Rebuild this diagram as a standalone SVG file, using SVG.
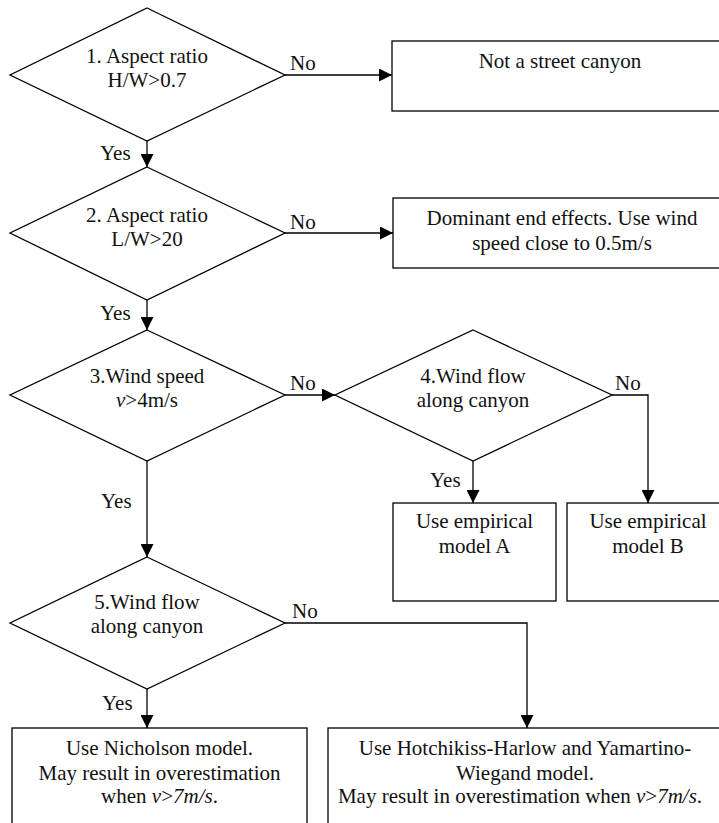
<svg xmlns="http://www.w3.org/2000/svg" width="719" height="823" viewBox="0 0 719 823">
<defs>
<style>
.shape{fill:#fff;stroke:#000;stroke-width:1.3}
.conn{fill:none;stroke:#000;stroke-width:1.3}
</style>
<marker id="arr" markerUnits="userSpaceOnUse" markerWidth="13" markerHeight="13" viewBox="0 0 13 13" refX="13" refY="6.5" orient="auto">
<path d="M0,0 L13,6.5 L0,13 z" fill="#000"/>
</marker>
</defs>
<rect width="719" height="823" fill="#fff"/>
<g id="connectors">
<path class="conn" d="M285,75 H392" marker-end="url(#arr)"/>
<path class="conn" d="M147,141 V167" marker-end="url(#arr)"/>
<path class="conn" d="M285,233 H393" marker-end="url(#arr)"/>
<path class="conn" d="M147,300 V330" marker-end="url(#arr)"/>
<path class="conn" d="M285,395 H335" marker-end="url(#arr)"/>
<path class="conn" d="M473,461 V503" marker-end="url(#arr)"/>
<path class="conn" d="M612,395 H648 V503" marker-end="url(#arr)"/>
<path class="conn" d="M147,461 V557" marker-end="url(#arr)"/>
<path class="conn" d="M147,689 V728" marker-end="url(#arr)"/>
<path class="conn" d="M285,623 H527 V728" marker-end="url(#arr)"/>
<text x="290" y="70" font-family="Liberation Serif" font-size="21" fill="#111">No</text>
<text x="100" y="160" font-family="Liberation Serif" font-size="21" fill="#111">Yes</text>
<text x="290" y="229" font-family="Liberation Serif" font-size="21" fill="#111">No</text>
<text x="100" y="320" font-family="Liberation Serif" font-size="21" fill="#111">Yes</text>
<text x="290" y="390" font-family="Liberation Serif" font-size="21" fill="#111">No</text>
<text x="615" y="390" font-family="Liberation Serif" font-size="21" fill="#111">No</text>
<text x="430" y="487" font-family="Liberation Serif" font-size="21" fill="#111">Yes</text>
<text x="101" y="508" font-family="Liberation Serif" font-size="21" fill="#111">Yes</text>
<text x="292" y="618" font-family="Liberation Serif" font-size="21" fill="#111">No</text>
<text x="102" y="710" font-family="Liberation Serif" font-size="21" fill="#111">Yes</text>
</g>
<g id="d1">
<polygon class="shape" points="147,8 285,75 147,141 10,75"/>
<text x="147" y="63" text-anchor="middle" font-family="Liberation Serif" font-size="21" fill="#111">1. Aspect ratio</text>
<text x="147" y="87" text-anchor="middle" font-family="Liberation Serif" font-size="21" fill="#111">H/W&gt;0.7</text>
</g>
<g id="box1">
<rect class="shape" x="392" y="41" width="340" height="70"/>
<text x="560" y="68" text-anchor="middle" font-family="Liberation Serif" font-size="21" fill="#111">Not a street canyon</text>
</g>
<g id="d2">
<polygon class="shape" points="147,167 285,233 147,300 10,233"/>
<text x="147" y="222" text-anchor="middle" font-family="Liberation Serif" font-size="21" fill="#111">2. Aspect ratio</text>
<text x="147" y="246" text-anchor="middle" font-family="Liberation Serif" font-size="21" fill="#111">L/W&gt;20</text>
</g>
<g id="box2">
<rect class="shape" x="393" y="198" width="340" height="70"/>
<text x="562" y="225" text-anchor="middle" font-family="Liberation Serif" font-size="21" fill="#111">Dominant end effects. Use wind</text>
<text x="562" y="250" text-anchor="middle" font-family="Liberation Serif" font-size="21" fill="#111">speed close to 0.5m/s</text>
</g>
<g id="d3">
<polygon class="shape" points="147,330 285,395 147,461 10,395"/>
<text x="147" y="383" text-anchor="middle" font-family="Liberation Serif" font-size="21" fill="#111">3.Wind speed</text>
<text x="147" y="407" text-anchor="middle" font-family="Liberation Serif" font-size="21" fill="#111"><tspan font-style="italic">v</tspan>&gt;4m/s</text>
</g>
<g id="d4">
<polygon class="shape" points="473,330 612,395 473,461 335,395"/>
<text x="473" y="383" text-anchor="middle" font-family="Liberation Serif" font-size="21" fill="#111">4.Wind flow</text>
<text x="473" y="407" text-anchor="middle" font-family="Liberation Serif" font-size="21" fill="#111">along canyon</text>
</g>
<g id="boxA">
<rect class="shape" x="393" y="503" width="163" height="98"/>
<text x="474.5" y="528" text-anchor="middle" font-family="Liberation Serif" font-size="21" fill="#111">Use empirical</text>
<text x="474.5" y="553" text-anchor="middle" font-family="Liberation Serif" font-size="21" fill="#111">model A</text>
</g>
<g id="boxB">
<rect class="shape" x="567" y="503" width="162" height="98"/>
<text x="648" y="528" text-anchor="middle" font-family="Liberation Serif" font-size="21" fill="#111">Use empirical</text>
<text x="648" y="553" text-anchor="middle" font-family="Liberation Serif" font-size="21" fill="#111">model B</text>
</g>
<g id="d5">
<polygon class="shape" points="147,557 285,623 147,689 10,623"/>
<text x="147" y="609" text-anchor="middle" font-family="Liberation Serif" font-size="21" fill="#111">5.Wind flow</text>
<text x="147" y="633" text-anchor="middle" font-family="Liberation Serif" font-size="21" fill="#111">along canyon</text>
</g>
<g id="boxN">
<rect class="shape" x="12" y="728" width="295" height="110"/>
<text x="159.5" y="755" text-anchor="middle" font-family="Liberation Serif" font-size="21" fill="#111">Use Nicholson model.</text>
<text x="159.5" y="780" text-anchor="middle" font-family="Liberation Serif" font-size="21" fill="#111">May result in overestimation</text>
<text x="159.5" y="803" text-anchor="middle" font-family="Liberation Serif" font-size="21" fill="#111">when <tspan font-style="italic">v</tspan>&gt;<tspan font-style="italic">7m/s</tspan>.</text>
</g>
<g id="boxH">
<rect class="shape" x="328" y="728" width="400" height="110"/>
<text x="525" y="755" text-anchor="middle" font-family="Liberation Serif" font-size="21" fill="#111">Use Hotchikiss-Harlow and Yamartino-</text>
<text x="525" y="780" text-anchor="middle" font-family="Liberation Serif" font-size="21" fill="#111">Wiegand model.</text>
<text x="520" y="803" text-anchor="middle" font-family="Liberation Serif" font-size="21" fill="#111">May result in overestimation when <tspan font-style="italic">v</tspan>&gt;<tspan font-style="italic">7m/s</tspan>.</text>
</g>
</svg>
